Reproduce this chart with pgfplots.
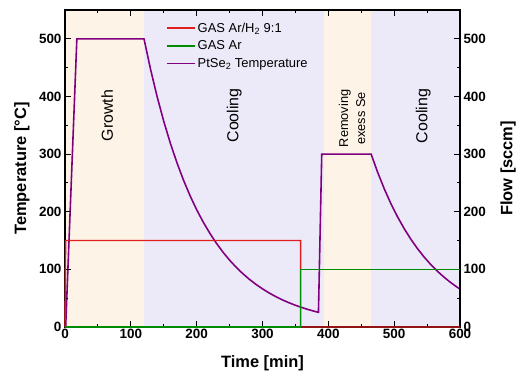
\documentclass[border=0pt]{standalone}
\usepackage{fontspec}
\setmainfont{Liberation Sans}
\usepackage{pgfplots}
\pgfplotsset{compat=1.18}
\usetikzlibrary{calc}
\definecolor{beige}{HTML}{FDF3E6}
\definecolor{lav}{HTML}{ECEAF8}
\definecolor{cred}{RGB}{225,30,30}
\definecolor{cgreen}{RGB}{0,140,0}
\definecolor{cpurple}{RGB}{128,0,128}
\pgfplotsset{
  base/.style={scale only axis, width=395bp, height=317bp,
    xmin=0, xmax=600, ymin=0, ymax=550,
    xtick={0,100,...,600}, minor xtick={50,150,...,550},
    ytick={0,100,...,500}, minor ytick={50,150,...,450},
    tick align=inside, major tick length=6bp, minor tick length=3bp,
    axis line style={line width=1.1pt}, tick style={line width=1pt, black},
    /pgf/number format/assume math mode=true,
    ticklabel style={font=\fontsize{13.5}{15}\selectfont\bfseries},
    xticklabel style={yshift=1bp},
  }
}
\begin{document}
\begin{tikzpicture}
\begin{axis}[base, name=ax, axis on top, xtick pos=both, ytick pos=left]
\addplot[fill=beige, draw=none] coordinates {(0,0) (0,550) (120,550) (120,0)} -- cycle;
\addplot[fill=lav, draw=none] coordinates {(120,0) (120,550) (394,550) (394,0)} -- cycle;
\addplot[fill=beige, draw=none] coordinates {(394,0) (394,550) (465,550) (465,0)} -- cycle;
\addplot[fill=lav, draw=none] coordinates {(465,0) (465,550) (600,550) (600,0)} -- cycle;
\addplot[cpurple, line width=1.6pt] coordinates {
(1,0) (18,500) (120,500) (130,446.9) (140,399.4) (150,356.9) (160,319.0) (170,285.1)
(180,254.8) (190,227.7) (200,203.5) (210,181.9) (220,162.6) (230,145.3) (240,129.8)
(250,116.0) (260,103.7) (270,92.7) (280,82.8) (290,74.0) (300,66.2) (310,59.1)
(320,52.8) (330,47.2) (340,42.2) (350,37.7) (360,33.7) (370,30.1) (380,26.9) (385,25.5)
(390,300) (465,300) (475,268.1) (485,239.6) (495,214.1) (505,191.4) (515,171.1)
(525,152.9) (535,136.6) (545,122.1) (555,109.1) (565,97.5) (575,87.2) (585,77.9)
(595,69.6) (600,65.8)};
\node[rotate=90, font=\fontsize{16}{18}\selectfont] at (axis cs:64,367) {Growth};
\node[rotate=90, font=\fontsize{16}{18}\selectfont] at (axis cs:257,367) {Cooling};
\node[rotate=90, font=\fontsize{16}{18}\selectfont] at (axis cs:544,366) {Cooling};
\node[rotate=90, align=center, font=\fontsize{12.8}{17}\selectfont] at (axis cs:436,362) {Removing\\exess Se};
\end{axis}
\begin{axis}[base, hide x axis, ytick pos=right, yticklabel pos=right, clip=false,
  legend style={at={(0.253,0.97)}, anchor=north west, draw=none, fill=none,
    font=\fontsize{13}{14}\selectfont, row sep=3bp, inner sep=1bp},
  legend cell align=left,
  legend image code/.code={\draw[#1] (0bp,0bp) -- (28bp,0bp);}]
\addplot[color=cred, line width=1.4pt] coordinates {(0,0) (1,150) (358,150) (358,0) (600,0)};
\addlegendentry{GAS Ar/H\textsubscript{2} 9:1}
\addplot[color=cgreen, line width=1.4pt] coordinates {(0,0) (358,0) (358,100) (600,100)};
\addlegendentry{GAS Ar}
\addlegendimage{color=cpurple, line width=1.6pt}
\addlegendentry{PtSe\textsubscript{2} Temperature}
\end{axis}
\node[rotate=90, font=\fontsize{16.5}{18}\selectfont\bfseries] at ($(ax.west)+(-43bp,0)$) {Temperature [°C]};
\node[rotate=90, font=\fontsize{16.5}{18}\selectfont\bfseries] at ($(ax.east)+(48bp,0)$) {Flow [sccm]};
\node[font=\fontsize{16.5}{18}\selectfont\bfseries] at ($(ax.south)+(0,-36bp)$) {Time [min]};
\pgfresetboundingbox
\path[use as bounding box] ($(ax.south west)+(-65bp,-45bp)$) rectangle ($(ax.north east)+(58bp,10bp)$);
\end{tikzpicture}
\end{document}
